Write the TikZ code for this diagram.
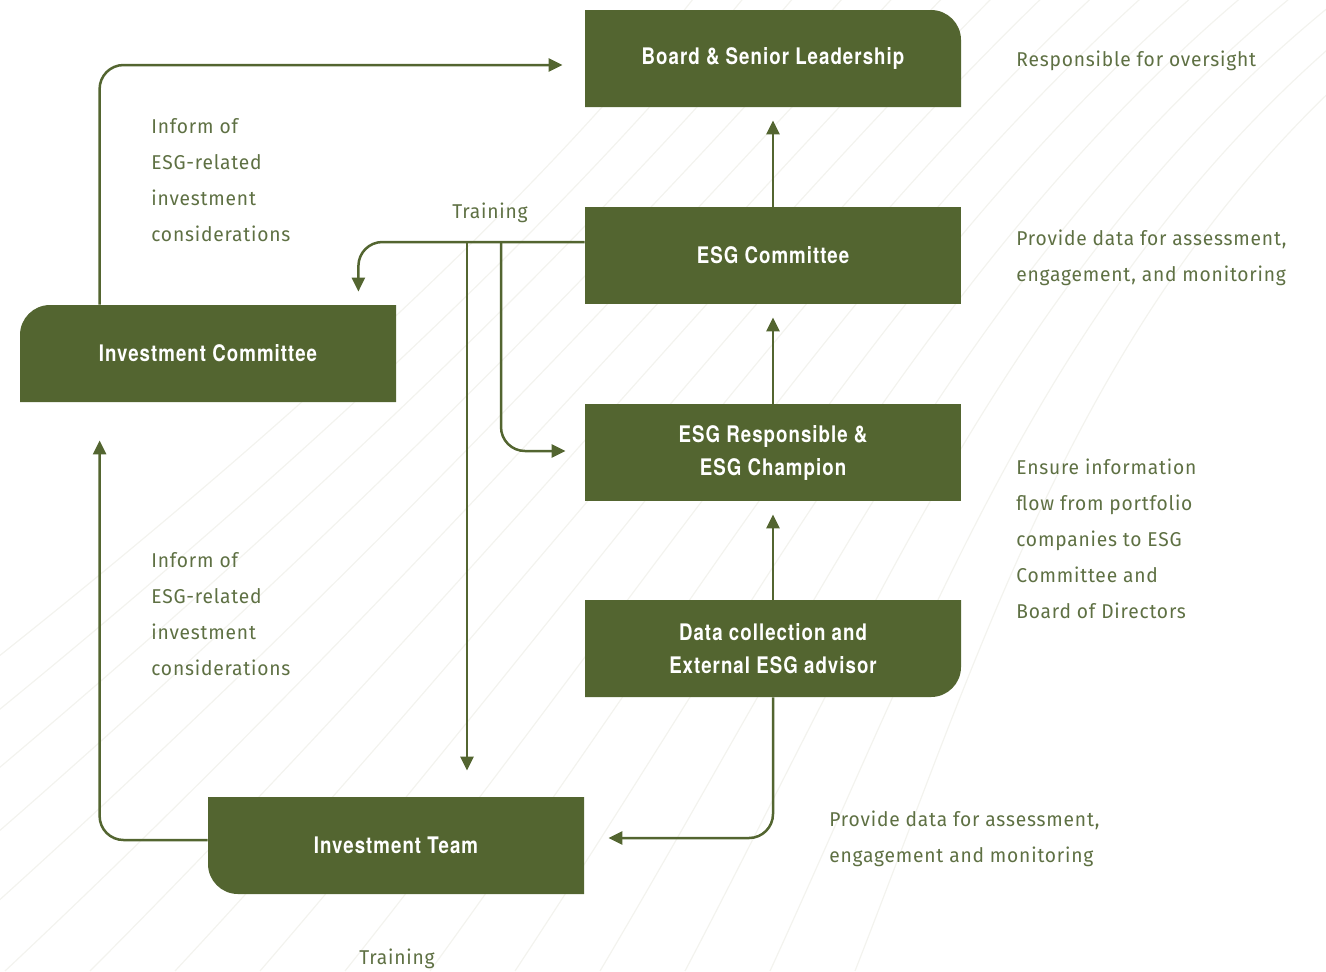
\documentclass[tikz,border=0pt]{standalone}
\usepackage{fontspec}
\usetikzlibrary{arrows.meta,positioning}
\definecolor{esggreen}{HTML}{536530}
\definecolor{esgtext}{HTML}{5E7043}
\definecolor{esgfaint}{HTML}{F3F3EE}
\newfontfamily\boxfont[FakeStretch=0.82,LetterSpace=4.5]{TeX Gyre Heros}
\newfontfamily\notefont[FakeStretch=0.96,LetterSpace=4]{Fira Sans}
\tikzset{%
    box/.style = {
        minimum width=188pt,
        minimum height=48.5pt,
        inner sep=0pt,
        align=center,
        text=white,
        font=\boxfont\bfseries\fontsize{11.4}{16.5}\selectfont,
    },
    plain/.style = {
        box,
        fill=esggreen,
    },
    roundtr/.style = {
        box,
        path picture={\fill[esggreen]
            (path picture bounding box.south west) -- (path picture bounding box.north west)
            [rounded corners=15pt] -- (path picture bounding box.north east)
            [sharp corners] -- (path picture bounding box.south east) -- cycle;},
    },
    roundtl/.style = {
        box,
        path picture={\fill[esggreen]
            (path picture bounding box.south west)
            [rounded corners=15pt] -- (path picture bounding box.north west)
            [sharp corners] -- (path picture bounding box.north east) -- (path picture bounding box.south east) -- cycle;},
    },
    roundbr/.style = {
        box,
        path picture={\fill[esggreen]
            (path picture bounding box.north west) -- (path picture bounding box.north east)
            [rounded corners=15pt] -- (path picture bounding box.south east)
            [sharp corners] -- (path picture bounding box.south west) -- cycle;},
    },
    roundbl/.style = {
        box,
        path picture={\fill[esggreen]
            (path picture bounding box.north east) -- (path picture bounding box.north west)
            [rounded corners=15pt] -- (path picture bounding box.south west)
            [sharp corners] -- (path picture bounding box.south east) -- cycle;},
    },
    note/.style = {
        anchor=west,
        align=left,
        inner sep=0pt,
        yshift=-1pt,
        text=esgtext,
        font=\notefont\fontsize{10}{18}\selectfont,
    },
    flow/.style = {
        draw=esggreen,
        line width=1.25pt,
        rounded corners=12pt,
        -{Triangle[length=7pt,width=6.5pt]},
    },
    bgline/.style = {
        draw=esgfaint,
        line width=0.6pt,
    },
}

\begin{document}
\begin{tikzpicture}[x=0.5pt,y=-0.5pt]
    \useasboundingbox (0,0) rectangle (1326,971);
    % faint background swoosh
    \foreach \i in {0,...,15}
        \draw[bgline] (\i*85-420,971) .. controls (\i*60+100,600) and (\i*40+500,250) .. (\i*50+700,-10);

    \node [roundtr] (board) at (773,58.5) {Board \& Senior Leadership};
    \node [plain] (esgc) at (773,255.5) {ESG Committee};
    \node [plain] (esgr) at (773,452.5) {ESG Responsible \&\\ESG Champion};
    \node [roundbr] (data) at (773,648.5) {Data collection and\\External ESG advisor};
    \node [roundtl] (invc) at (208,353.5) {Investment Committee};
    \node [roundbl] (invt) at (396,845.5) {Investment Team};

    \coordinate (trainleft) at (467,242);
    \coordinate (trainright) at (501,242);

    \draw [flow, shorten >=6.5pt] (esgc) -- (board);
    \draw [flow, shorten >=6.5pt] (esgr) -- (esgc);
    \draw [flow, shorten >=6.5pt] (data) -- (esgr);
    \draw [flow, shorten >=11pt] ([xshift=40pt]invc.north west) |- ([yshift=-3.25pt]board.west);
    \draw [flow, shorten >=6.5pt] ([yshift=6.75pt]esgc.west) -| ([xshift=-19pt]invc.north east);
    \draw [flow, shorten >=13pt] (trainleft) -- (trainleft |- invt.north);
    \draw [flow, shorten >=9.5pt] (trainright) |- ([yshift=0.75pt]esgr.west);
    \draw [flow, shorten >=19pt] ([yshift=2.75pt]invt.west) -| ([xshift=40pt]invc.south west);
    \draw [flow, shorten >=12pt] (data.south) |- ([yshift=3.75pt]invt.east);

    \node [note] at (1016,59) (oversight) {Responsible for oversight};
    \node [note] at (oversight.west |- esgc) {Provide data for assessment,\\engagement, and monitoring};
    \node [note] at (1016,536.5) {Ensure information\\flow from portfolio\\companies to ESG\\Committee and\\Board of Directors};
    \node [note] at (829,837) {Provide data for assessment,\\engagement and monitoring};
    \node [note] at (151,178.5) {Inform of\\ESG-related\\investment\\considerations};
    \node [note] at (151,612.5) {Inform of\\ESG-related\\investment\\considerations};
    \node [note, anchor=center] at (490,211) {Training};
    \node [note, anchor=center] at (397,957) {Training};
\end{tikzpicture}
\end{document}
